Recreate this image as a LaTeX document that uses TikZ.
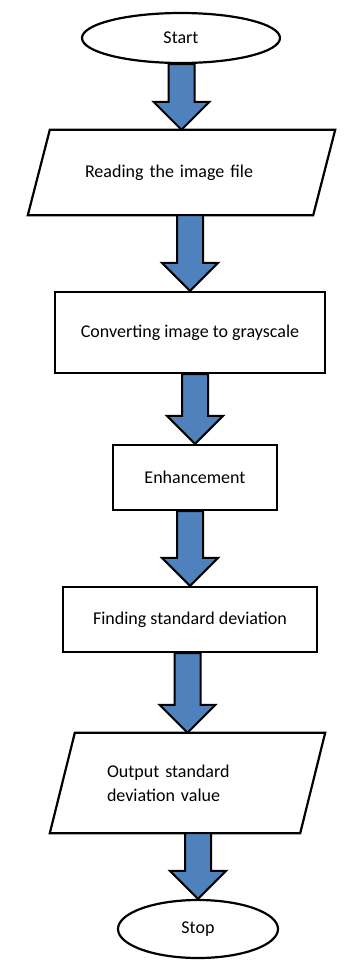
\documentclass[tikz,border=0pt]{standalone}
\usepackage{fontspec}
\setmainfont{Carlito}
\usepackage{tikz}
\usetikzlibrary{shapes.geometric,calc}
\usepackage{xcolor}
\definecolor{arrowblue}{RGB}{79,129,189}
\newcommand{\blockarrow}[2]{%
  \draw[fatarrow] let \p1=(#1.south), \p2=(#2.north) in
    (\x2-13pt,\y1) -- (\x2-13pt,\y2+28pt) -- (\x2-28pt,\y2+28pt) -- (\x2,\y2)
    -- (\x2+28pt,\y2+28pt) -- (\x2+13pt,\y2+28pt) -- (\x2+13pt,\y1) -- cycle;}
% slanted frame round an io node
\newcommand{\slantframe}[2]{%
  \draw[frame] ($(#1.north west)+(#2,0)$) -- ($(#1.north east)+(#2,0)$)
    -- ($(#1.south east)+(-#2,0)$) -- ($(#1.south west)+(-#2,0)$) -- cycle;}

\begin{document}
\begin{tikzpicture}[
  x=1pt, y=-1pt,
  every node/.style={font=\fontsize{18}{24}\selectfont},
  frame/.style={draw, line width=2.2pt, line join=miter},
  terminal/.style={frame, ellipse, inner sep=0pt},
  process/.style={frame, rectangle, inner sep=2pt, align=center},
  io/.style={rectangle, inner sep=2pt},
  fatarrow/.style={draw=black, line width=2pt, fill=arrowblue},
]
  \useasboundingbox (0,0) rectangle (356,961);
  \node[terminal, minimum width=198, minimum height=50] (start) at (181,38) {Start};
  \node[io, minimum width=285, minimum height=85, text width=193, align=left] (read) at (181.5,172.5) {Reading the image file};
  \node[process, minimum width=270, minimum height=81] (gray) at (190,332.5) {Converting image to grayscale};
  \node[process, minimum width=164, minimum height=65] (enh) at (195,477.5) {Enhancement};
  \node[process, minimum width=254, minimum height=65] (std) at (190,619.5) {Finding standard deviation};
  \node[io, minimum width=250, minimum height=100, text width=161, align=left] (out) at (187.5,783) {Output standard\\deviation value};
  \node[terminal, minimum width=160, minimum height=58] (stop) at (198,929) {Stop};
  \slantframe{read}{11}
  \slantframe{out}{12.5}
  \blockarrow{start}{read}
  \blockarrow{read}{gray}
  \blockarrow{gray}{enh}
  \blockarrow{enh}{std}
  \blockarrow{std}{out}
  \blockarrow{out}{stop}
\end{tikzpicture}
\end{document}
